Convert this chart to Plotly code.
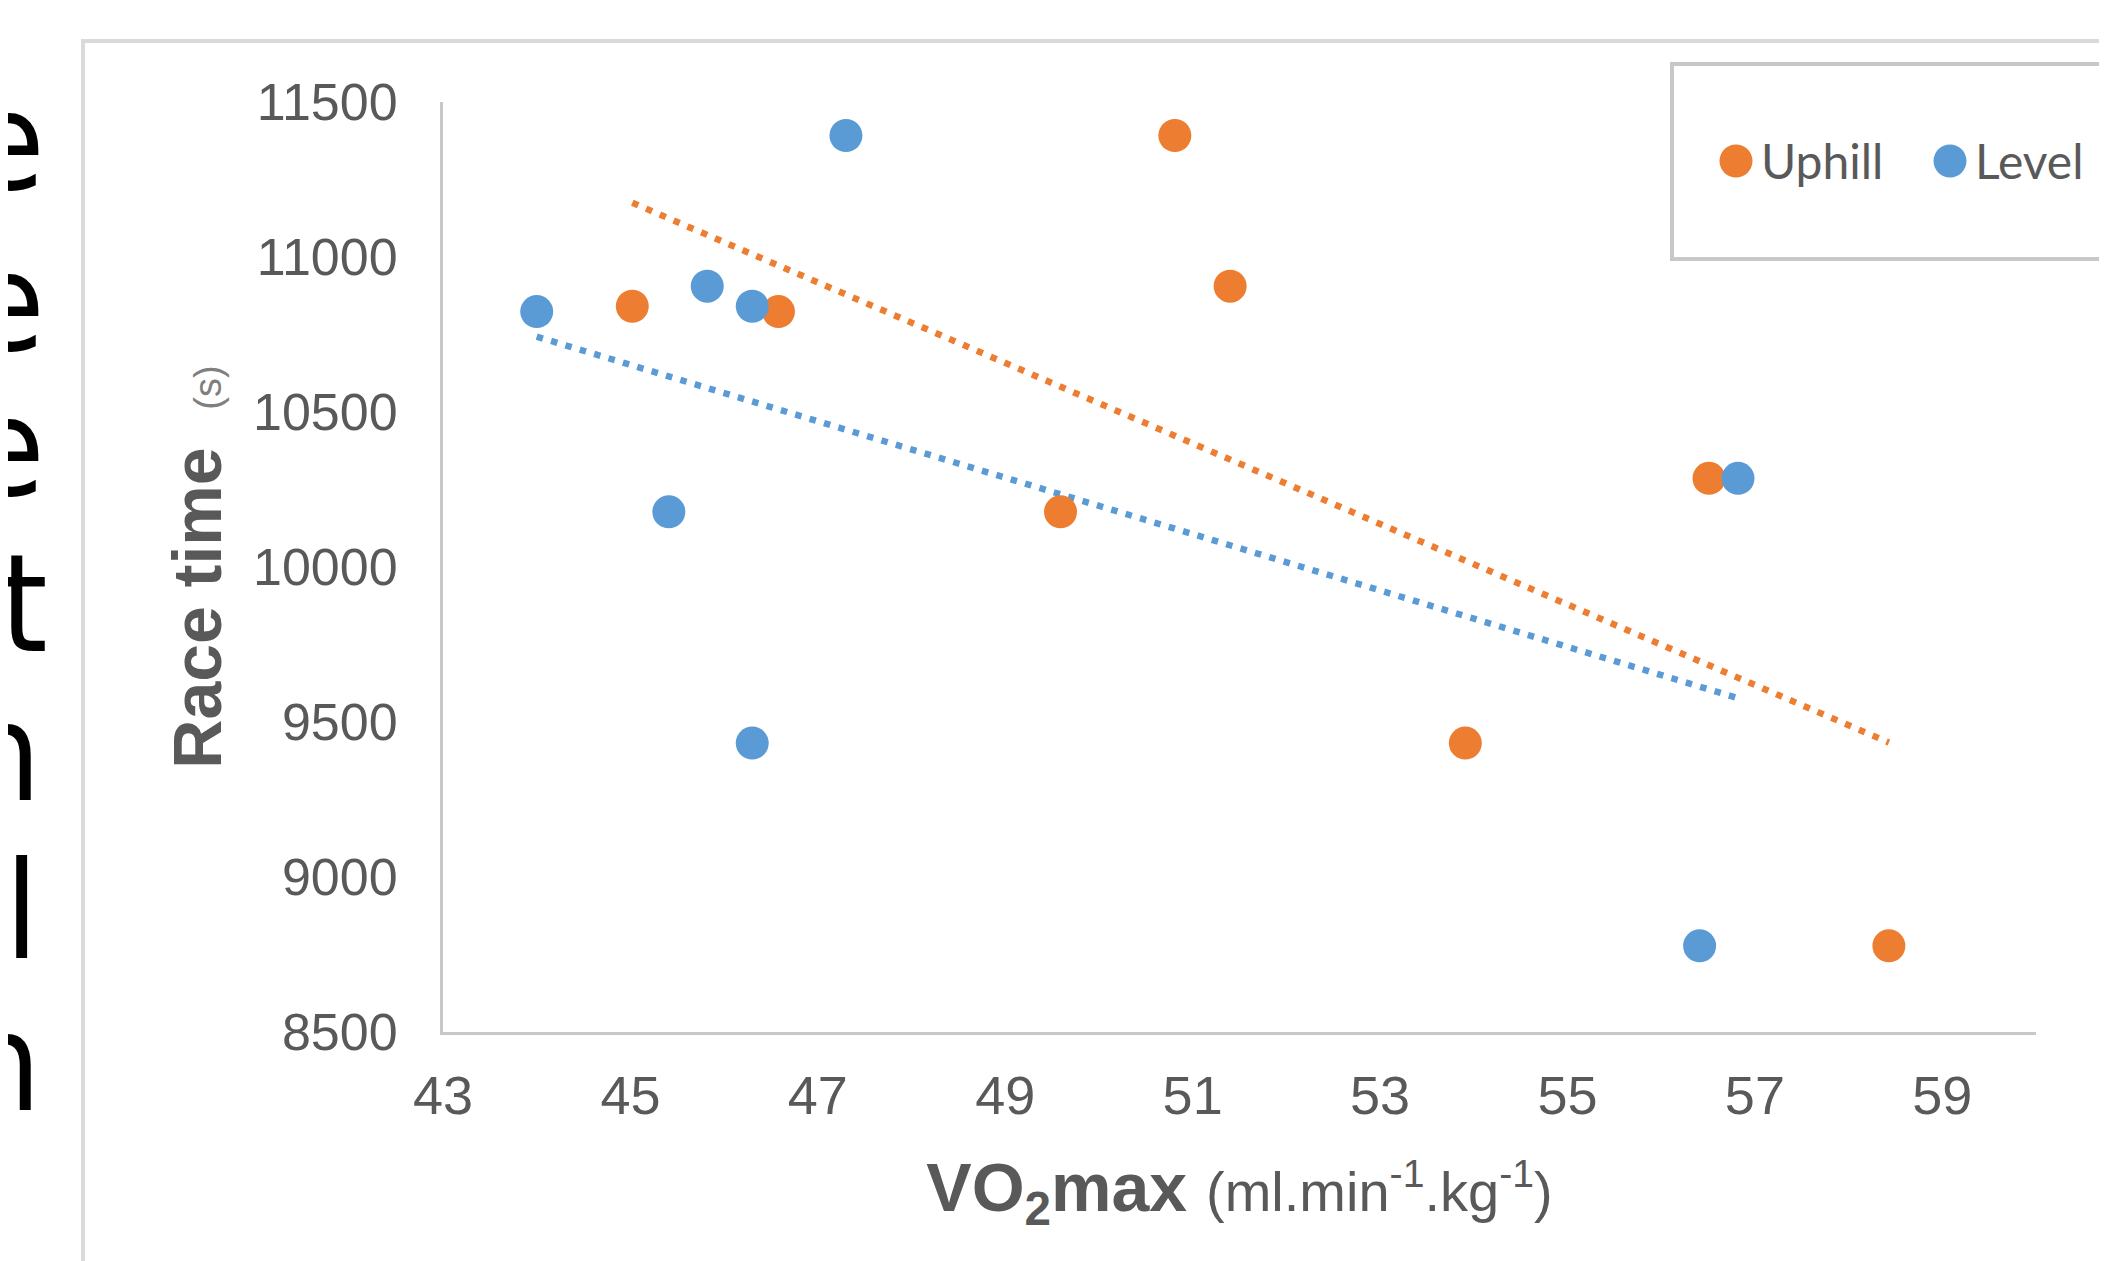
import numpy as np
import plotly.graph_objects as go

# ---- data ----
race_time = [10841, 10824, 11392, 10906, 10178, 9432, 10286, 8778]
uphill_vo2 = [45.02, 46.58, 50.81, 51.40, 49.59, 53.91, 56.51, 58.43]
level_vo2 = [44.00, 46.30, 47.30, 45.82, 45.41, 46.30, 56.82, 56.41]
level_time = [10824, 10841, 11392, 10906, 10178, 9432, 10286, 8778]
series_names = ["Uphill", "Level"]
x_ticks = [43, 45, 47, 49, 51, 53, 55, 57, 59]
y_ticks = [8500, 9000, 9500, 10000, 10500, 11000, 11500]
side_letters = ["e", "e", "e", "t", "n", "ll", "n"]

ORANGE = "#ED7D31"
BLUE = "#5B9BD5"
GRAY_TXT = "#595959"
AX = "#C8C8C8"

W, H = 2107, 1261
OFF = 8  # page body margin
L, T = 435, 94
PW, PH = 1593, 930
R, B = W - L - PW, H - T - PH


def fx(page_x):
    return (page_x - OFF - L) / PW


def fy(page_y):
    return (T + PH - (page_y - OFF)) / PH


def trend(x, y):
    k, c = np.polyfit(x, y, 1)
    xs = [min(x), max(x)]
    return xs, [k * v + c for v in xs]


fig = go.Figure()

ux, uy = trend(uphill_vo2, race_time)
lx, ly = trend(level_vo2, level_time)
fig.add_trace(go.Scatter(x=ux, y=uy, mode="lines", showlegend=False, hoverinfo="skip",
                         line=dict(color=ORANGE, width=6.5, dash="6.5px,8.5px")))
fig.add_trace(go.Scatter(x=lx, y=ly, mode="lines", showlegend=False, hoverinfo="skip",
                         line=dict(color=BLUE, width=6.5, dash="6.5px,8.5px")))

fig.add_trace(go.Scatter(x=uphill_vo2, y=race_time, mode="markers", name=series_names[0],
                         marker=dict(color=ORANGE, size=33)))
fig.add_trace(go.Scatter(x=level_vo2, y=level_time, mode="markers", name=series_names[1],
                         marker=dict(color=BLUE, size=33)))

LEG_Y = 161
LEG_X = [1736, 1950]
shapes = [
    # outer chart frame (cropped by the picture edges)
    dict(type="rect", xref="paper", yref="paper",
         x0=fx(83), x1=fx(2200), y0=fy(1400), y1=fy(41),
         line=dict(color="#DADADA", width=4), fillcolor="rgba(0,0,0,0)", layer="below"),
    # legend frame (cropped on the right)
    dict(type="rect", xref="paper", yref="paper",
         x0=fx(1672), x1=fx(2200), y0=fy(259), y1=fy(64),
         line=dict(color=AX, width=4), fillcolor="white", layer="below"),
]
# enlarged legend symbols (Plotly caps legend marker size)
for cx, col in zip(LEG_X, [ORANGE, BLUE]):
    shapes.append(dict(type="circle", xref="paper", yref="paper",
                       xsizemode="pixel", ysizemode="pixel",
                       xanchor=fx(cx), yanchor=fy(LEG_Y),
                       x0=-16.5, x1=16.5, y0=-16.5, y1=16.5,
                       fillcolor=col, line=dict(width=0), layer="above"))

annotations = []
centers = [142, 303, 448, 604, 753, 911, 1063]
rights = [47, 47, 47, 50, 43, 41, 43]
for ch, yc, xr in zip(side_letters, centers, rights):
    annotations.append(dict(text=ch, xref="paper", yref="paper",
                            x=fx(xr), y=fy(yc), xanchor="right", yanchor="middle",
                            height=148, showarrow=False,
                            font=dict(family="Liberation Sans Narrow, DejaVu Sans Condensed, Open Sans, sans-serif",
                                      size=135, color="black")))

fig.update_layout(
    width=W, height=H,
    margin=dict(l=L, r=R, t=T, b=B, autoexpand=False),
    paper_bgcolor="white", plot_bgcolor="white",
    shapes=shapes, annotations=annotations,
    showlegend=True,
    legend=dict(orientation="h", x=fx(LEG_X[0] - 25), y=fy(LEG_Y),
                xanchor="left", yanchor="middle", bgcolor="rgba(0,0,0,0)",
                font=dict(family="Lato, Open Sans, sans-serif", size=48, color=GRAY_TXT),
                itemwidth=40, entrywidth=159, entrywidthmode="pixels", tracegroupgap=0),
    xaxis=dict(range=[43, 60], tickvals=x_ticks, ticktext=[str(v) for v in x_ticks],
               showgrid=False, zeroline=False, showline=True, linecolor=AX, linewidth=3,
               ticks="outside", ticklen=14, tickcolor="rgba(0,0,0,0)",
               tickfont=dict(family="Liberation Sans, Arial, sans-serif", size=54, color=GRAY_TXT),
               title=dict(text="<b>VO<sub>2</sub>max</b> <span style='font-size:56px'>(ml.min<sup>-1</sup>.kg<sup>-1</sup>)</span>",
                          font=dict(family="Liberation Sans, Arial, sans-serif", size=68, color=GRAY_TXT),
                          standoff=40)),
    yaxis=dict(range=[8500, 11500], tickvals=y_ticks, ticktext=[str(v) for v in y_ticks],
               showgrid=False, zeroline=False, showline=True, linecolor=AX, linewidth=3,
               ticks="outside", ticklen=32, tickcolor="rgba(0,0,0,0)",
               tickfont=dict(family="Liberation Sans, Arial, sans-serif", size=52, color=GRAY_TXT),
               title=dict(text="<b>Race time</b> &nbsp;<span style='font-size:38px;color:#7F7F7F'>(s)</span>",
                          font=dict(family="Liberation Sans, Arial, sans-serif", size=68, color=GRAY_TXT),
                          standoff=10)),
)

fig.write_html("out.html")
